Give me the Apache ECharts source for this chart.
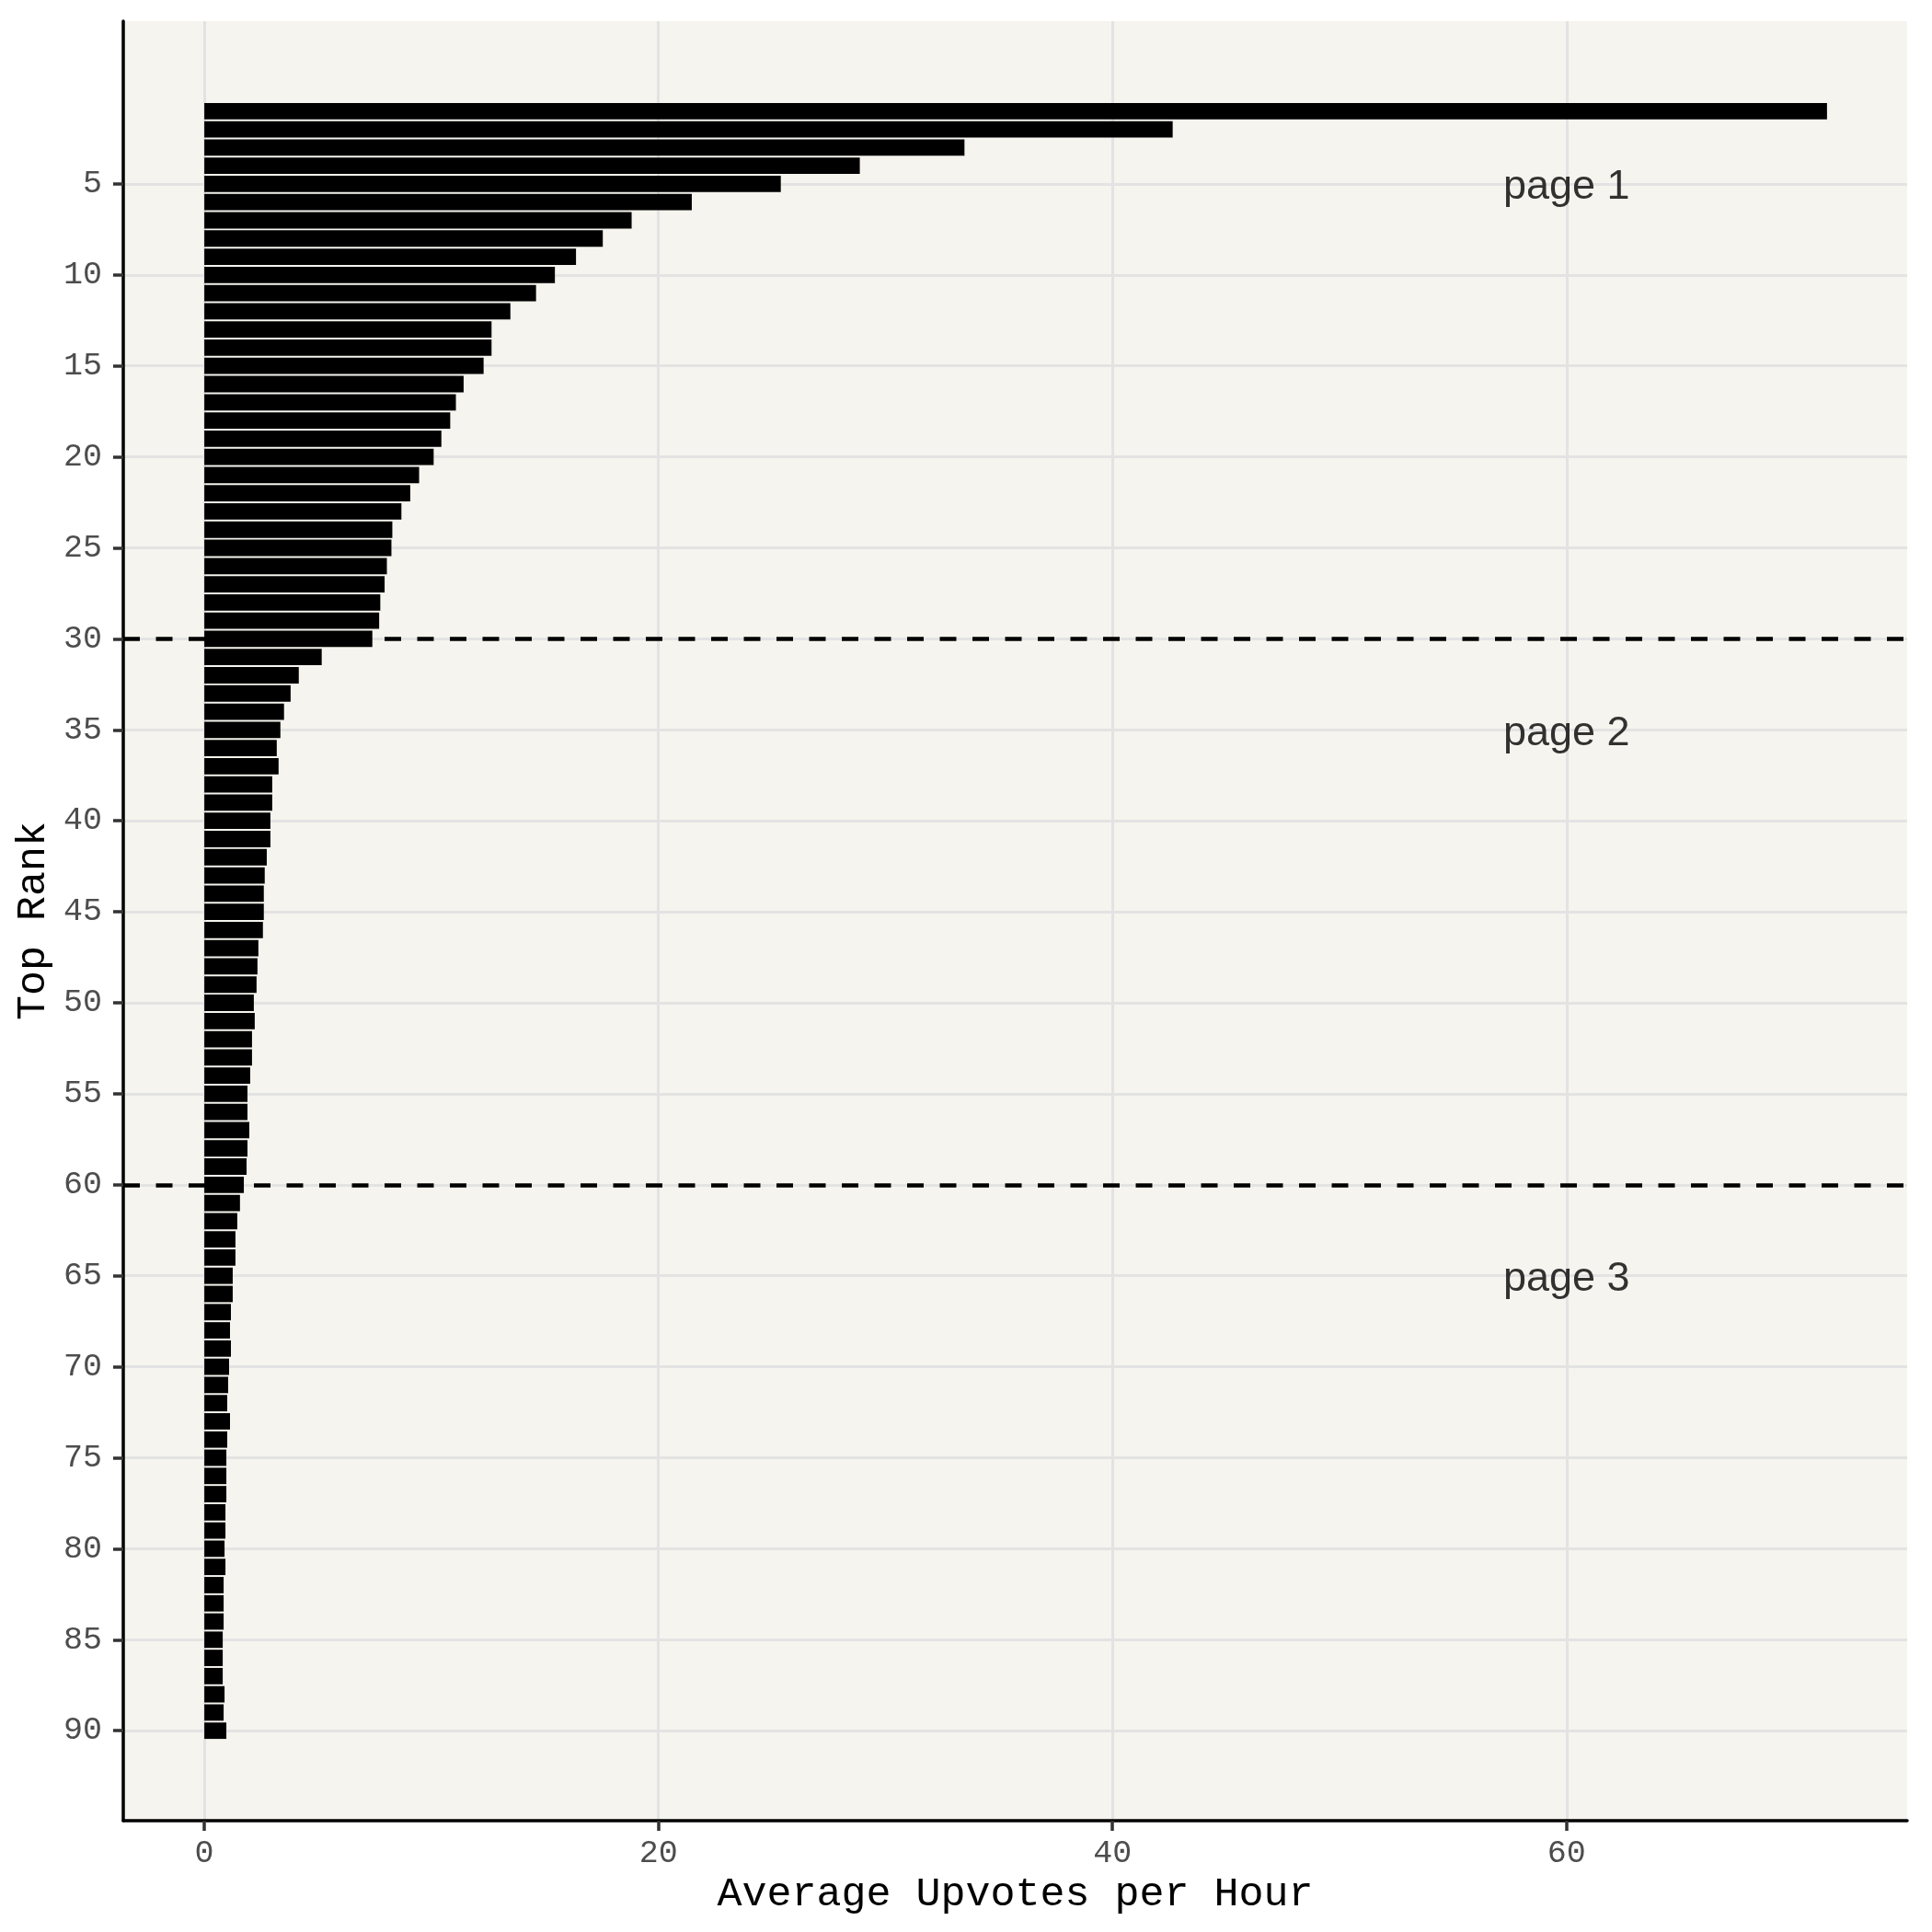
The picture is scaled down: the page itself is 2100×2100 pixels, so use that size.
<!DOCTYPE html>
<html>
<head>
<meta charset="utf-8">
<script src="https://cdn.jsdelivr.net/npm/echarts@6/dist/echarts.min.js"></script>
<style>
  html, body { margin: 0; padding: 0; background: #fff; }
  #chart { width: 2100px; height: 2100px; }
</style>
</head>
<body>
<div id="chart"></div>
<script>
// rank 1..90, average upvotes per hour
var ranks = [];
for (var r = 1; r <= 90; r++) ranks.push(r);
var upvotes = [
  71.47, 42.65, 33.48, 28.87, 25.39, 21.47, 18.82, 17.55, 16.37, 15.44,
  14.61, 13.48, 12.65, 12.65, 12.30, 11.42, 11.08, 10.83, 10.44, 10.10,
  9.46, 9.07, 8.68, 8.28, 8.24, 8.04, 7.94, 7.75, 7.70, 7.40,
  5.17, 4.16, 3.80, 3.51, 3.35, 3.19, 3.27, 2.99, 2.99, 2.91,
  2.91, 2.75, 2.66, 2.62, 2.62, 2.58, 2.38, 2.34, 2.30, 2.18,
  2.22, 2.10, 2.10, 2.02, 1.90, 1.90, 1.98, 1.90, 1.86, 1.74,
  1.57, 1.45, 1.37, 1.37, 1.25, 1.25, 1.17, 1.13, 1.17, 1.09,
  1.05, 1.01, 1.13, 1.01, 0.97, 0.97, 0.97, 0.93, 0.93, 0.89,
  0.93, 0.85, 0.85, 0.85, 0.81, 0.81, 0.81, 0.89, 0.85, 0.97
];
var xTicks = [0, 20, 40, 60];
var yTicks = [5, 10, 15, 20, 25, 30, 35, 40, 45, 50, 55, 60, 65, 70, 75, 80, 85, 90];
var pageBreaks = [30, 60];
var pageLabels = ['page 1', 'page 2', 'page 3'];
var pageRanks = [5, 35, 65];
var pageX = 60;

var barData = upvotes.map(function (v, i) { return [v, ranks[i]]; });
var labelData = pageRanks.map(function (r) { return [pageX, r]; });

// horizontal bars on a value/value grid (ggplot style padding on both axes)
function renderBar(params, api) {
  var start = api.coord([0, api.value(1)]);
  var end = api.coord([api.value(0), api.value(1)]);
  var h = Math.abs(api.size([0, 1])[1]) * 0.9;
  return {
    type: 'rect',
    shape: { x: start[0], y: start[1] - h / 2, width: end[0] - start[0], height: h },
    style: { fill: '#000' }
  };
}

var mono = 'Liberation Mono';
var chart = echarts.init(document.getElementById('chart'));
var option = {
  animation: false,
  backgroundColor: '#fff',
  grid: {
    left: 134, right: 27, top: 23, bottom: 121,
    show: true, backgroundColor: '#f5f4ee', borderWidth: 0
  },
  xAxis: {
    type: 'value',
    min: -3.57,
    max: 75.0,
    name: 'Average Upvotes per Hour',
    nameLocation: 'middle',
    nameGap: 39,
    nameTextStyle: { fontFamily: mono, fontSize: 45, color: '#000' },
    axisLine: { show: true, onZero: false, lineStyle: { color: '#000', width: 3.5 } },
    axisTick: { show: true, length: 11, customValues: xTicks, lineStyle: { color: '#333', width: 3.5 } },
    axisLabel: { customValues: xTicks, margin: 18, fontFamily: mono, fontSize: 35, color: '#4d4d4d' },
    splitLine: { show: true, lineStyle: { color: '#e3e3e3', width: 3 } }
  },
  yAxis: {
    type: 'value',
    inverse: true,
    min: -3.945,
    max: 94.945,
    name: 'Top Rank',
    nameLocation: 'middle',
    nameGap: 67,
    nameRotate: 90,
    nameTextStyle: { fontFamily: mono, fontSize: 45, color: '#000' },
    axisLine: { show: true, onZero: false, lineStyle: { color: '#000', width: 3.5 } },
    axisTick: { show: true, length: 11, customValues: yTicks, lineStyle: { color: '#333', width: 3.5 } },
    axisLabel: { customValues: yTicks, margin: 23, fontFamily: mono, fontSize: 35, color: '#4d4d4d' },
    splitLine: { show: true, lineStyle: { color: '#e3e3e3', width: 3 } }
  },
  series: [
    {
      type: 'custom',
      renderItem: renderBar,
      encode: { x: 0, y: 1 },
      data: barData
    },
    {
      type: 'scatter',
      symbolSize: 1,
      itemStyle: { color: 'rgba(0,0,0,0)' },
      data: labelData,
      label: {
        show: true,
        position: 'inside',
        offset: [0, 4],
        formatter: function (p) { return pageLabels[p.dataIndex]; },
        fontFamily: 'Liberation Sans',
        fontSize: 45,
        color: '#000',
        textBorderWidth: 0
      },
      markLine: {
        silent: true,
        symbol: 'none',
        label: { show: false },
        lineStyle: { color: '#000', width: 4.5, type: [18, 17.5], cap: 'butt' },
        data: pageBreaks.map(function (b) { return { yAxis: b }; })
      }
    }
  ]
};
chart.setOption(option);
</script>
</body>
</html>
